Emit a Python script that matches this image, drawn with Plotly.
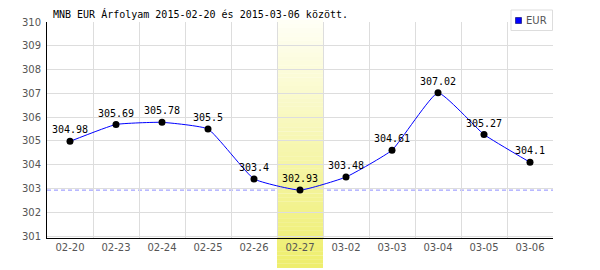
import plotly.graph_objects as go

# ---- data ----
dates = ["02-20", "02-23", "02-24", "02-25", "02-26", "02-27",
         "03-02", "03-03", "03-04", "03-05", "03-06"]
eur = [304.98, 305.69, 305.78, 305.5, 303.4, 302.93,
       303.48, 304.61, 307.02, 305.27, 304.1]
y_ticks = [301, 302, 303, 304, 305, 306, 307, 308, 309, 310]
highlight = "02-27"
series_name = "EUR"
title_text = "MNB EUR Árfolyam 2015-02-20 és 2015-03-06 között."

# ---- layout geometry ----
W, H = 600, 270
ML, MR, MT, MB = 47, 47, 22, 32
PW, PH = W - ML - MR, H - MT - MB


def px2x(px):
    return (px - ML) / PW


def px2y(py):
    return (H - MB - py) / PH


mono = "DejaVu Sans Mono"
sans = "DejaVu Sans"

fig = go.Figure()
fig.add_trace(go.Scatter(
    x=dates, y=eur, mode="lines+markers+text",
    line=dict(color="#0000ff", width=1, shape="spline", smoothing=0.4),
    marker=dict(color="#000000", size=7),
    text=[f"{v:g}" for v in eur], textposition="top center",
    textfont=dict(family=mono, size=10, color="#000000"),
    cliponaxis=False, showlegend=False, name=series_name,
))

shapes = []
# minimum dashed line
shapes.append(dict(type="line", xref="paper", yref="y", x0=0, x1=1,
                   y0=min(eur), y1=min(eur), layer="below",
                   line=dict(color="#8c8cff", width=1, dash="4px,3px")))

# gradient highlight band
hi = dates.index(highlight)
top_px, bot_px = 20, 268
N = 60
c0 = (255, 255, 246)
c1 = (238, 238, 108)
for i in range(N):
    ya = top_px + (bot_px - top_px) * i / N
    yb = top_px + (bot_px - top_px) * (i + 1) / N
    t = (i + 0.5) / N
    col = "rgb(%d,%d,%d)" % tuple(round(a + (b - a) * t) for a, b in zip(c0, c1))
    inside = yb <= H - MB
    shapes.append(dict(type="rect", xref="x", yref="paper",
                       x0=hi - 0.5, x1=hi + 0.5, y0=px2y(yb), y1=px2y(ya) + 0.001,
                       fillcolor=col, line=dict(width=0),
                       layer="between" if inside else "below"))

# legend box
shapes.append(dict(type="rect", xref="paper", yref="paper",
                   x0=px2x(511), x1=px2x(552.5), y0=px2y(30.5), y1=px2y(10),
                   fillcolor="#ffffff", line=dict(color="#dddddd", width=1),
                   layer="above"))
shapes.append(dict(type="rect", xref="paper", yref="paper",
                   x0=px2x(515.5), x1=px2x(521.5), y0=px2y(23.5), y1=px2y(17.5),
                   fillcolor="#0000ff", line=dict(color="#000066", width=0.6),
                   layer="above"))

annotations = [dict(text=series_name, xref="paper", yref="paper",
                    x=px2x(523.5), y=px2y(20.5), xanchor="left", yanchor="middle",
                    showarrow=False, font=dict(family=sans, size=10, color="#555555"))]

fig.update_layout(
    width=W, height=H,
    margin=dict(l=ML, r=MR, t=MT, b=MB, pad=0),
    paper_bgcolor="#ffffff", plot_bgcolor="#ffffff",
    title=dict(text=title_text, x=53 / W, xanchor="left", xref="container",
               y=1 - 14.5 / H, yanchor="middle", yref="container",
               font=dict(family=mono, size=10, color="#000000")),
    shapes=shapes, annotations=annotations,
    showlegend=False,
)
fig.update_xaxes(
    type="category", range=[-0.5, len(dates) - 0.5], tickson="boundaries",
    showgrid=True, gridcolor="#dddddd", gridwidth=1,
    showline=True, linecolor="#000000", linewidth=1,
    ticks="", tickfont=dict(family=sans, size=10, color="#555555"),
    fixedrange=True, zeroline=False,
)
fig.update_yaxes(
    range=[300.916, 310], tickvals=y_ticks,
    showgrid=True, gridcolor="#dddddd", gridwidth=1,
    showline=True, linecolor="#000000", linewidth=1,
    ticks="", ticklabelstandoff=3,
    tickfont=dict(family=sans, size=10, color="#555555"),
    zeroline=False, fixedrange=True,
)
fig.write_html("out.html", config={"displayModeBar": False})
